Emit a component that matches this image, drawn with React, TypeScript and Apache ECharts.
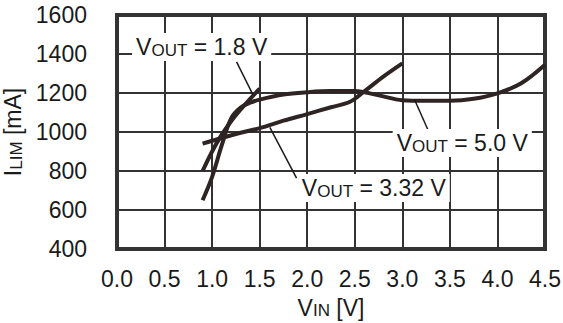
import React, { useEffect, useRef } from "react";
import * as echarts from "echarts";

const xTicks = [0, 0.5, 1.0, 1.5, 2.0, 2.5, 3.0, 3.5, 4.0, 4.5];
const yTicks = [400, 600, 800, 1000, 1200, 1400, 1600];

const vout18X = [0.9, 1.0, 1.1, 1.2, 1.3, 1.4, 1.5];
const vout18Y = [800, 900, 985, 1055, 1115, 1170, 1222];

const vout332X = [0.9, 1.0, 1.25, 1.5, 1.75, 2.0, 2.25, 2.45, 2.6, 2.8, 3.0];
const vout332Y = [940, 955, 990, 1020, 1058, 1092, 1127, 1155, 1208, 1284, 1352];

const vout50X = [0.9, 1.0, 1.1, 1.2, 1.3, 1.4, 1.5, 1.75, 2.0, 2.25, 2.5, 2.75, 3.0, 3.25, 3.5, 3.75, 4.0, 4.25, 4.5];
const vout50Y = [650, 770, 930, 1070, 1125, 1150, 1166, 1192, 1204, 1210, 1210, 1188, 1163, 1160, 1160, 1170, 1198, 1250, 1345];

// annotation labels
const labelNames = ["1.8 V", "5.0 V", "3.32 V"];
const labelPos = [
  [0.89, 1436],
  [3.63, 944],
  [2.7, 713],
];
// leader lines: [x1, y1, x2, y2]
const leaders = [
  [1.257, 1360, 1.43, 1190],
  [3.13, 1164, 3.27, 1010],
  [1.607, 1024, 1.888, 763],
];

const zip = (xs: number[], ys: number[]) => xs.map((x, i) => [x, ys[i]]);

const FONT = "'Liberation Sans', Arial, sans-serif";
const CURVE = "#2e2424";
const GRID = "#333333";

export default function App() {
  const ref = useRef<HTMLDivElement>(null);
  useEffect(() => {
    if (!ref.current) return;
    const chart = echarts.init(ref.current, undefined, { renderer: "svg" });
    const curve = (name: string, data: number[][]) => ({
      name,
      type: "line",
      data,
      smooth: 0.35,
      symbol: "none",
      z: 3,
      lineStyle: { color: CURVE, width: 4 },
    });
    const richBig = { fontSize: 23, fontFamily: FONT, fill: "#1a1a1a", color: "#1a1a1a", verticalAlign: "bottom", lineHeight: 24 };
    const richSmall = { fontSize: 17, fontFamily: FONT, fill: "#1a1a1a", color: "#1a1a1a", verticalAlign: "bottom", lineHeight: 24 };
    chart.setOption({
      animation: false,
      backgroundColor: "#ffffff",
      grid: {
        left: 117,
        right: 18,
        top: 15,
        bottom: 74,
        show: true,
        borderColor: GRID,
        borderWidth: 4,
        backgroundColor: "transparent",
        outerBoundsMode: "none",
        containLabel: false,
      },
      xAxis: {
        type: "value",
        min: 0,
        max: 4.5,
        interval: 0.5,
        axisLine: { show: false },
        axisTick: { show: false },
        splitLine: { show: true, lineStyle: { color: GRID, width: 2 } },
        axisLabel: {
          margin: 18,
          fontSize: 23,
          fontFamily: FONT,
          color: "#1a1a1a",
          formatter: (v: number) => v.toFixed(1),
        },
        name: "{v|V}{s|IN}{v| [V]}",
        nameLocation: "middle",
        nameGap: 46,
        nameTextStyle: { rich: { v: richBig, s: richSmall } },
      },
      yAxis: {
        type: "value",
        min: 400,
        max: 1600,
        interval: 200,
        axisLine: { show: false },
        axisTick: { show: false },
        splitLine: { show: true, lineStyle: { color: GRID, width: 2 } },
        axisLabel: {
          margin: 30,
          fontSize: 23,
          fontFamily: FONT,
          color: "#1a1a1a",
          formatter: (v: number) => String(v),
        },
        name: "{v|I}{s|LIM}{v| [mA]}",
        nameLocation: "middle",
        nameRotate: 90,
        nameGap: 76,
        nameTextStyle: { rich: { v: richBig, s: richSmall } },
      },
      series: [
        curve("VOUT = 1.8 V", zip(vout18X, vout18Y)),
        curve("VOUT = 3.32 V", zip(vout332X, vout332Y)),
        curve("VOUT = 5.0 V", zip(vout50X, vout50Y)),
        ...leaders.map((l, i) => ({
          name: "leader" + i,
          type: "line",
          data: [
            [l[0], l[1]],
            [l[2], l[3]],
          ],
          symbol: "none",
          z: 4,
          lineStyle: { color: "#1a1a1a", width: 1.5 },
        })),
        {
          name: "labels",
          type: "custom",
          z: 6,
          data: labelPos,
          renderItem: (params: any, api: any) => {
            const pt = api.coord([api.value(0), api.value(1)]);
            return {
              type: "text",
              x: pt[0],
              y: pt[1],
              z2: 10,
              style: {
                text: "{v|V}{s|OUT}{v| = " + labelNames[params.dataIndex] + "}",
                rich: { v: richBig, s: richSmall },
                align: "center",
                verticalAlign: "middle",
                backgroundColor: "#ffffff",
                padding: [2, 4, 2, 4],
              },
            };
          },
        },
      ],
    });
    return () => chart.dispose();
  }, []);
  return (
    <div
      ref={ref}
      style={{ position: "fixed", left: 0, top: 0, width: 563, height: 323, background: "#fff" }}
    />
  );
}
